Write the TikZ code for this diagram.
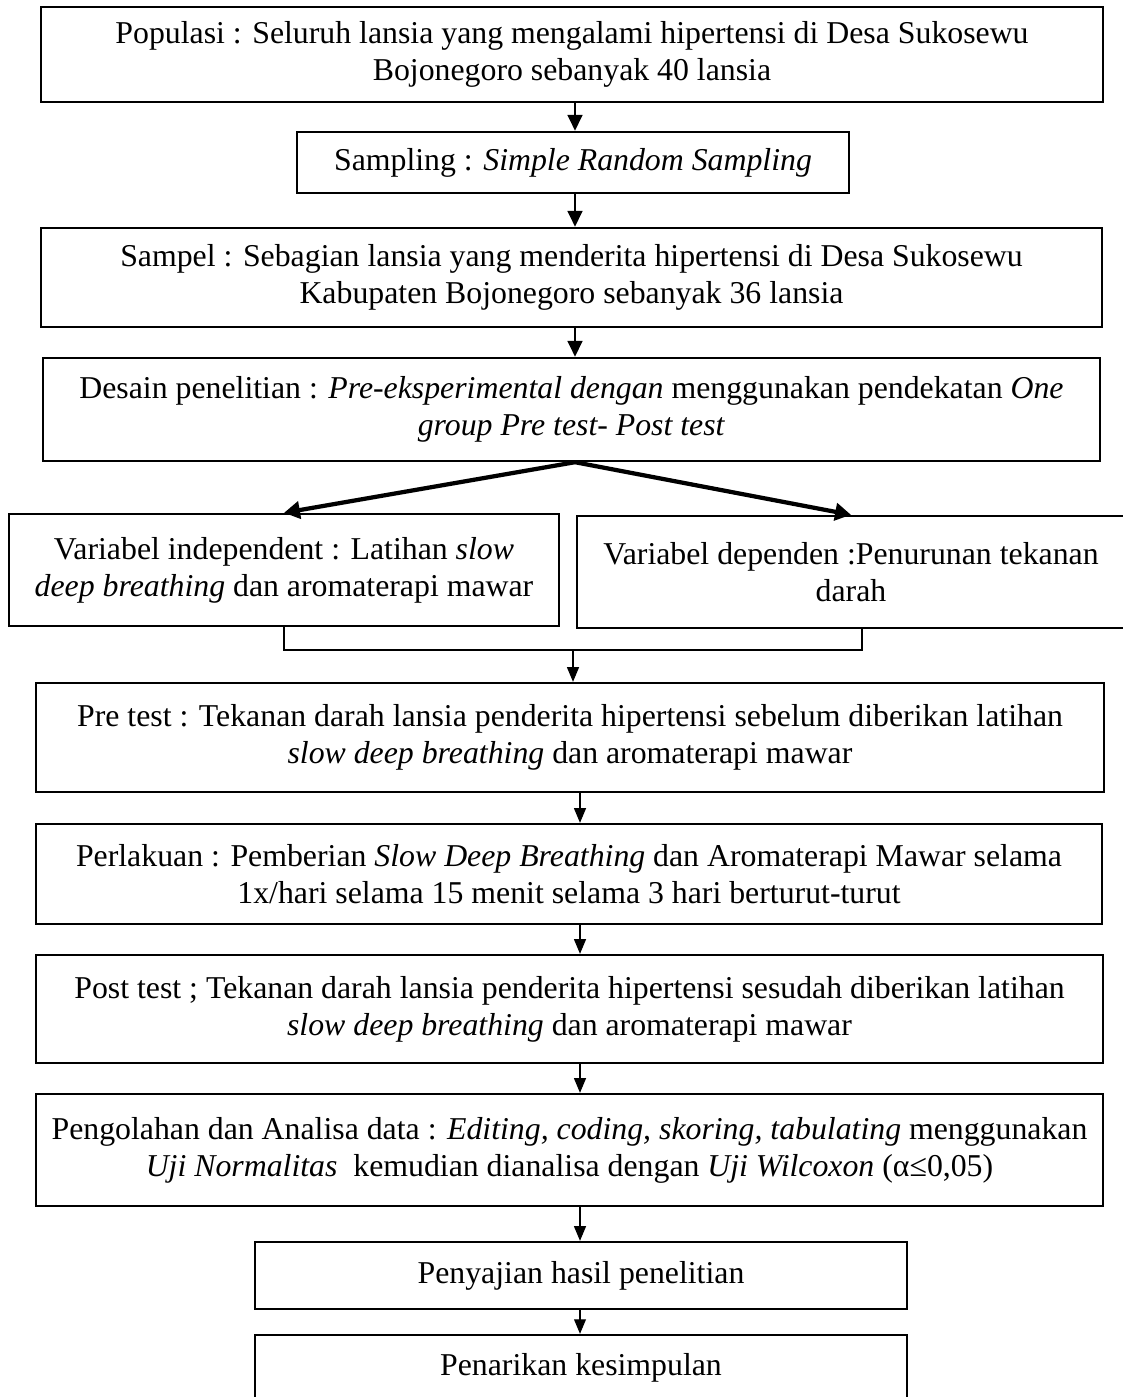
\documentclass[tikz,border=0pt]{standalone}
\usepackage{fontspec}
\setmainfont{Liberation Serif}
\usetikzlibrary{arrows.meta}

% one pixel of the page
\newdimen\px
\px=0.3774pt

\begin{document}
\begin{tikzpicture}[x=0.3774pt, y=-0.3774pt,
    box/.style={draw, line width=0.9pt, inner sep=0pt, align=center,
        font=\fontsize{12}{14}\selectfont},
    thickarr/.style={line width=1.1pt, -{Triangle[length=6pt,width=5.5pt]}},
    fanarr/.style={line width=1.6pt, -{Triangle[length=6pt,width=6.5pt]}},
    thinarr/.style={line width=0.4pt, -{Triangle[length=5.5pt,width=4.5pt]}},
    link/.style={line width=0.4pt}]

    % Page frame
    \useasboundingbox (0,0) rectangle (1123,1397);

    % Axes of the arrows
    \coordinate (upaxis) at (575,0);
    \coordinate (lowaxis) at (580,0);
    \coordinate (join) at (573,650);

    % Top of the chart
    \node[box, minimum width=1062\px, minimum height=95\px] (pop) at (572,54.5)
        {Populasi : Seluruh lansia yang mengalami hipertensi di Desa Sukosewu\\
         Bojonegoro sebanyak 40 lansia};
    \node[box, minimum width=552\px, minimum height=61\px] (smp) at (573,162.5)
        {Sampling : \textit{Simple Random Sampling}};
    \node[box, minimum width=1061\px, minimum height=99\px] (sampel) at (571.5,277.5)
        {Sampel : Sebagian lansia yang menderita hipertensi di Desa Sukosewu\\
         Kabupaten Bojonegoro sebanyak 36 lansia};
    \node[box, minimum width=1057\px, minimum height=103\px] (desain) at (571.5,409.5)
        {Desain penelitian : \textit{Pre-eksperimental dengan} menggunakan pendekatan \textit{One}\\
         \textit{group Pre test- Post test}};

    % The two variables
    \node[box, minimum width=550\px, minimum height=112\px] (indep) at (284,570)
        {Variabel independent : Latihan \textit{slow}\\
         \textit{deep breathing} dan aromaterapi mawar};
    \node[box, minimum width=548\px, minimum height=112\px] (dep) at (851,572)
        {Variabel dependen :Penurunan tekanan\\
         darah};

    % Steps of the study
    \node[box, minimum width=1068\px, minimum height=109\px] (pretest) at (570,737.5)
        {Pre test : Tekanan darah lansia penderita hipertensi sebelum diberikan latihan\\
         \textit{slow deep breathing} dan aromaterapi mawar};
    \node[box, minimum width=1066\px, minimum height=100\px] (perlakuan) at (569,874)
        {Perlakuan : Pemberian \textit{Slow Deep Breathing} dan Aromaterapi Mawar selama\\
         1x/hari selama 15 menit selama 3 hari berturut-turut};
    \node[box, minimum width=1067\px, minimum height=108\px] (posttest) at (569.5,1009)
        {Post test ; Tekanan darah lansia penderita hipertensi sesudah diberikan latihan\\
         \textit{slow deep breathing} dan aromaterapi mawar};
    \node[box, minimum width=1067\px, minimum height=112\px] (olah) at (569.5,1150)
        {Pengolahan dan Analisa data : \textit{Editing, coding, skoring, tabulating} menggunakan\\
         \textit{Uji Normalitas}\ \ kemudian dianalisa dengan \textit{Uji Wilcoxon} (α≤0,05)};
    \node[box, minimum width=652\px, minimum height=67\px] (saji) at (581,1275.5)
        {Penyajian hasil penelitian};
    \node[box, minimum width=652\px, minimum height=65\px] (simpul) at (581,1367.5)
        {Penarikan kesimpulan};

    % Thick arrows at the top
    \draw[thickarr] (pop.south -| upaxis) -- (smp.north -| upaxis);
    \draw[thickarr] (smp.south -| upaxis) -- (sampel.north -| upaxis);
    \draw[thickarr] (sampel.south -| upaxis) -- (desain.north -| upaxis);

    % Fan out to the variables
    \draw[fanarr] (desain.south -| upaxis) -- (indep.north);
    \draw[fanarr] (desain.south -| upaxis) -- (dep.north);

    % Bracket joining the variables
    \draw[link] (indep.south) |- (join) -| ([xshift=11\px]dep.south);
    \draw[thinarr] (join) -- (pretest.north -| join);

    % Thin arrows below
    \draw[thinarr] (pretest.south -| lowaxis) -- (perlakuan.north -| lowaxis);
    \draw[thinarr] (perlakuan.south -| lowaxis) -- (posttest.north -| lowaxis);
    \draw[thinarr] (posttest.south -| lowaxis) -- (olah.north -| lowaxis);
    \draw[thinarr] (olah.south -| lowaxis) -- (saji.north -| lowaxis);
    \draw[thinarr] (saji.south -| lowaxis) -- (simpul.north -| lowaxis);

\end{tikzpicture}
\end{document}
